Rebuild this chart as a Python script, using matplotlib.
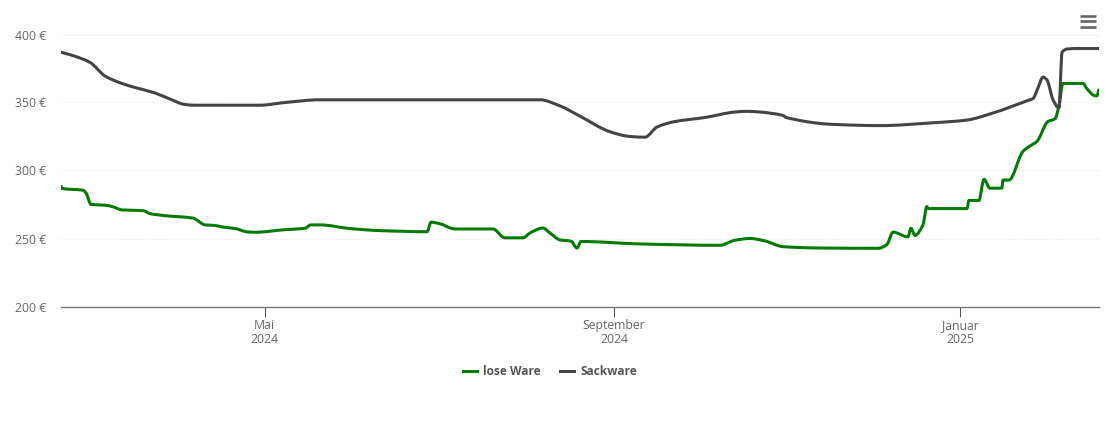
import numpy as np
import matplotlib
matplotlib.use('Agg')
import matplotlib.pyplot as plt
import matplotlib.dates as mdates
from matplotlib.lines import Line2D
from matplotlib.path import Path
from matplotlib.patches import PathPatch

plt.rcParams['font.family'] = ['Open Sans', 'DejaVu Sans']

# days since the first point on the axis
start = mdates.date2num(np.datetime64('2024-02-19')) + 0.3
x_end = 365.5

lose_days = [0, 0.3, 7.7, 8.8, 10.6, 15.5, 18.3, 21.5, 28.9, 31.3, 36.6, 46.5, 48.2, 50.7,
             54.2, 56.7, 61.3, 65.8, 68.3, 78.9, 85.9, 88, 91.2, 101.8, 112.3, 128.9, 130.3,
             133.5, 138.7, 152.1, 156.3, 162.7, 165.1, 169.7, 172.2, 175.7, 179.6, 181.7,
             183.1, 203.9, 232, 237.3, 242.6, 247.9, 254.2, 267.3, 287.7, 290.8, 293, 298.2,
             299.3, 300.7, 303.5, 304.9, 305.3, 319, 319.7, 323.2, 325, 327.1, 331.3, 331.7,
             333.8, 338.7, 341.2, 343.7, 347.5, 350, 351.4, 352.8, 359.9, 361.3, 364.1, 364.8,
             365.5]
lose_price = [289, 286.8, 285.5, 283.5, 275, 274.5, 273.3, 271, 270.5, 268.3, 266.8, 265, 263, 260,
              259.6, 258.5, 257.3, 254.8, 254.6, 256.5, 257.5, 260, 260, 257.3, 255.8, 255, 262,
              260.8, 257, 257, 250.5, 250.5, 254, 257.7, 254, 249, 248, 243,
              247.8, 246, 245, 248.7, 250, 248.2, 244, 243, 242.8, 245.5, 254.7, 251.2,
              257.5, 252.3, 260, 273.5, 272, 272, 278, 278, 293.5, 287, 287, 293,
              293, 314, 318, 321.5, 336, 338, 347.5, 364, 364, 360, 355, 355,
              360]

sack_days = [0, 4.9, 10.2, 15.5, 20.8, 26.1, 33.1, 38.4, 43.7, 47.2, 70, 78.9, 91.2, 168.7,
             175.7, 182.7, 193.3, 200.4, 205.6, 209.9, 216.2, 226.8, 237.3, 241.5, 246.1, 254.2,
             255.3, 271.1, 288.7, 306.3, 318.7, 328.2, 340.2, 342.3, 344, 345.8, 347.2, 349.3,
             351.4, 352.5, 354.2, 357.7, 365.5]
sack_price = [387, 384, 379.5, 369.5, 364.5, 361, 357, 352.5, 348.5, 348, 348, 350, 352, 352,
              347.5, 340, 328.5, 325, 324.5, 332, 336, 339, 343, 343.5, 343, 340.5,
              339, 334, 333, 335, 337, 342.3, 351.3, 353, 360.7, 368.7, 366.5, 352,
              346, 387, 389.3, 389.7, 389.7]

y_ticks = [200, 250, 300, 350, 400]
x_tick_dates = ['2024-05-01', '2024-09-01', '2025-01-01']
x_tick_labels = ['Mai\n2024', 'September\n2024', 'Januar\n2025']

GREEN = '#067a06'
GREY = '#434348'


# spline through the read points, flat at peaks and plateaus so it doesn't overshoot
def spline_path(xs, ys):
    xs, ys = np.asarray(xs, float), np.asarray(ys, float)
    dx = np.diff(xs)
    s = np.diff(ys) / dx
    m = np.zeros(len(xs))
    for i in range(1, len(xs) - 1):
        if s[i - 1] * s[i] > 0:
            m[i] = 2 * s[i - 1] * s[i] / (s[i - 1] + s[i])
    m[0], m[-1] = s[0], s[-1]
    verts = [(xs[0], ys[0])]
    codes = [Path.MOVETO]
    for i in range(len(dx)):
        verts += [(xs[i] + dx[i] / 3, ys[i] + m[i] * dx[i] / 3),
                  (xs[i + 1] - dx[i] / 3, ys[i + 1] - m[i + 1] * dx[i] / 3),
                  (xs[i + 1], ys[i + 1])]
        codes += [Path.CURVE4] * 3
    return Path(verts, codes)


W, H = 1110, 422
fig = plt.figure(figsize=(W / 100, H / 100), dpi=100)
ax = fig.add_axes([61 / W, 1 - 306.5 / H, (1099 - 61) / W, (306.5 - 34.5) / H])

for days, price, col in [(lose_days, lose_price, GREEN), (sack_days, sack_price, GREY)]:
    ax.add_patch(PathPatch(spline_path(start + np.array(days), price), fill=False, edgecolor=col,
                           lw=2.2, joinstyle='round', zorder=3))

ax.set_xlim(start, start + x_end)
ax.set_ylim(200, 400)

ax.set_yticks(y_ticks)
ax.set_yticklabels([f'{v} €' for v in y_ticks], fontsize=8.8, color='#666666', va='center_baseline')
ax.tick_params(axis='y', length=0, pad=10.5)
ax.grid(axis='y', color='#e6e6e6', linestyle=(0, (1, 1.5)), lw=0.75)
ax.set_axisbelow(True)

ax.set_xticks([mdates.date2num(np.datetime64(d)) for d in x_tick_dates])
ax.set_xticklabels(x_tick_labels, fontsize=8.8, color='#666666', linespacing=1.1)
ax.tick_params(axis='x', length=7.2, width=0.75, color='#555555', pad=1.5)

for side in ['top', 'left', 'right']:
    ax.spines[side].set_visible(False)
ax.spines['bottom'].set_color('#777777')
ax.spines['bottom'].set_linewidth(1.0)

handles = [Line2D([], [], color=GREEN, lw=2.2, label='lose Ware'),
           Line2D([], [], color=GREY, lw=2.2, label='Sackware')]
leg = fig.legend(handles=handles, loc='center', bbox_to_anchor=(550 / W, 1 - 371.5 / H), ncol=2,
                 frameon=False, handlelength=1.2, handletextpad=0.5, columnspacing=1.6,
                 prop={'size': 8.6, 'weight': 'bold'})
for t in leg.get_texts():
    t.set_color('#555555')

# export menu icon
for y in [16, 21.3, 26.6]:
    fig.add_artist(Line2D([1080 / W, 1096 / W], [1 - y / H, 1 - y / H], color='#666666', lw=1.9,
                          transform=fig.transFigure, solid_capstyle='butt'))

fig.savefig('out.png', dpi=100)
